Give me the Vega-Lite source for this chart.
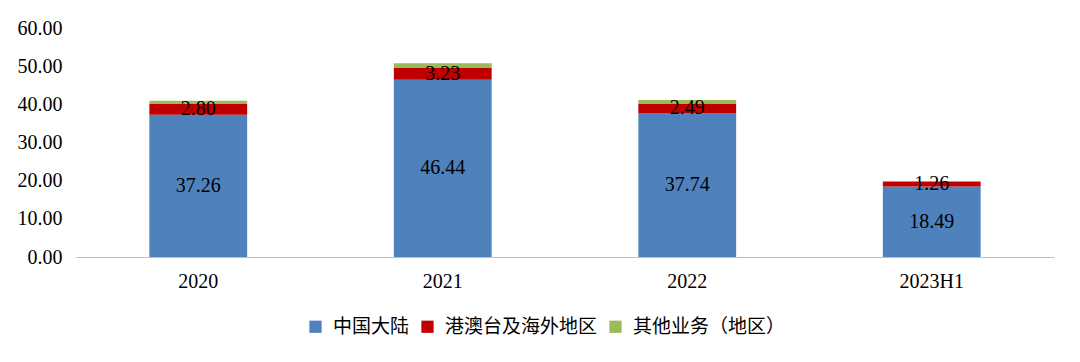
{
  "$schema": "https://vega.github.io/schema/vega-lite/v6.json",
  "width": 1080,
  "height": 362,
  "autosize": {"type": "fit", "contains": "padding"},
  "padding": {"left": 17, "right": 26, "top": 18, "bottom": 71},
  "background": "white",
  "config": {"view": {"stroke": null}, "axisY": {"labelOverlap": false}},
  "data": {
    "values": [
      {"year": "2020", "region": "中国大陆", "ord": 1, "value": 37.26},
      {"year": "2020", "region": "港澳台及海外地区", "ord": 2, "value": 2.80},
      {"year": "2020", "region": "其他业务（地区）", "ord": 3, "value": 0.9},
      {"year": "2021", "region": "中国大陆", "ord": 1, "value": 46.44},
      {"year": "2021", "region": "港澳台及海外地区", "ord": 2, "value": 3.23},
      {"year": "2021", "region": "其他业务（地区）", "ord": 3, "value": 1.1},
      {"year": "2022", "region": "中国大陆", "ord": 1, "value": 37.74},
      {"year": "2022", "region": "港澳台及海外地区", "ord": 2, "value": 2.49},
      {"year": "2022", "region": "其他业务（地区）", "ord": 3, "value": 0.9},
      {"year": "2023H1", "region": "中国大陆", "ord": 1, "value": 18.49},
      {"year": "2023H1", "region": "港澳台及海外地区", "ord": 2, "value": 1.26},
      {"year": "2023H1", "region": "其他业务（地区）", "ord": 3, "value": 0.1}
    ]
  },
  "transform": [
    {"stack": "value", "groupby": ["year"], "sort": [{"field": "ord", "order": "ascending"}], "as": ["v0", "v1"]},
    {"calculate": "(datum.v0 + datum.v1) / 2", "as": "mid"}
  ],
  "encoding": {
    "x": {
      "field": "year", "type": "nominal", "title": null,
      "scale": {"paddingInner": 0.6, "paddingOuter": 0.3},
      "axis": {"labelAngle": 0, "labelFont": "Liberation Serif", "labelFontSize": 20, "labelColor": "#000", "ticks": false, "domainColor": "#bfbfbf", "labelPadding": 14}
    }
  },
  "layer": [
    {
      "mark": {"type": "bar"},
      "encoding": {
        "y": {
          "field": "v0", "type": "quantitative", "title": null,
          "scale": {"domain": [0, 60]},
          "axis": {"values": [0, 10, 20, 30, 40, 50, 60], "format": ".2f", "labelOverlap": false, "grid": false, "domain": false, "ticks": false, "labelFont": "Liberation Serif", "labelFontSize": 20, "labelColor": "#000", "labelPadding": 14}
        },
        "y2": {"field": "v1"},
        "color": {
          "field": "region", "type": "nominal",
          "scale": {"domain": ["中国大陆", "港澳台及海外地区", "其他业务（地区）"], "range": ["#4F81BD", "#C00000", "#9BBB59"]},
          "legend": {"orient": "none", "legendX": 230, "legendY": 289, "direction": "horizontal", "title": null, "symbolType": "square", "symbolSize": 150, "symbolStrokeWidth": 0, "labelFont": "Noto Sans CJK SC", "labelFontSize": 19, "labelColor": "#000", "columnPadding": 8, "labelOffset": 8}
        }
      }
    },
    {
      "transform": [{"filter": "datum.ord < 3"}],
      "mark": {"type": "text", "font": "Liberation Serif", "fontSize": 20, "color": "#000", "baseline": "middle"},
      "encoding": {
        "y": {
          "field": "mid", "type": "quantitative", "title": null,
          "scale": {"domain": [0, 60]},
          "axis": {"values": [0, 10, 20, 30, 40, 50, 60], "format": ".2f", "labelOverlap": false, "grid": false, "domain": false, "ticks": false, "labelFont": "Liberation Serif", "labelFontSize": 20, "labelColor": "#000", "labelPadding": 14}
        },
        "text": {"field": "value", "type": "quantitative", "format": ".2f"}
      }
    }
  ]
}
